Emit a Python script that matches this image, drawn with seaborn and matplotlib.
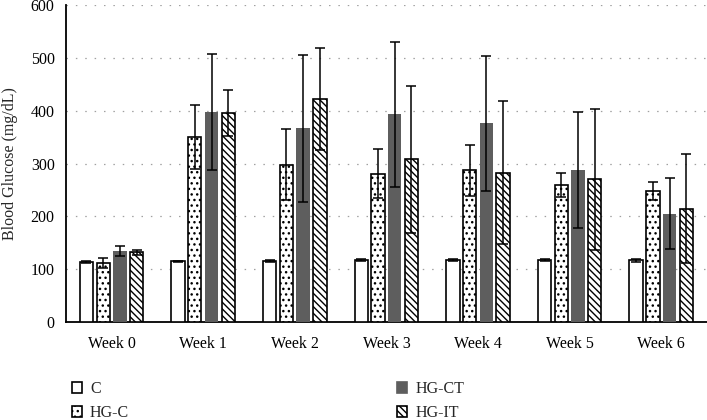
import seaborn as sns
import matplotlib.pyplot as plt
import pandas as pd

# values
weeks = ["Week 0", "Week 1", "Week 2", "Week 3", "Week 4", "Week 5", "Week 6"]
groups = ["C", "HG-C", "HG-CT", "HG-IT"]

c_mean = [114, 115, 115, 117, 117, 118, 117]
c_err = [2, 1, 2, 2, 2, 2, 3]
hgc_mean = [112, 350, 298, 281, 287, 260, 249]
hgc_err = [10, 60, 67, 47, 48, 23, 17]
hgct_mean = [135, 398, 367, 393, 376, 288, 205]
hgct_err = [10, 110, 139, 137, 128, 110, 67]
hgit_mean = [132, 396, 422, 308, 283, 270, 215]
hgit_err = [5, 44, 96, 139, 136, 134, 104]

means = [c_mean, hgc_mean, hgct_mean, hgit_mean]
errs = [c_err, hgc_err, hgct_err, hgit_err]

rows = []
for g, m in zip(groups, means):
    for w, v in zip(weeks, m):
        rows.append({"week": w, "group": g, "glucose": v})
df = pd.DataFrame(rows)

sns.set_style("white")
plt.rcParams["font.family"] = ["Liberation Serif", "DejaVu Serif"]
plt.rcParams["hatch.linewidth"] = 1.0

fig = plt.figure(figsize=(7.07, 4.2), dpi=100)
ax = fig.add_axes([0.093, 0.233, 0.907, 0.755])

faces = {"C": "white", "HG-C": "white", "HG-CT": "#5e5e5e", "HG-IT": "white"}
sns.barplot(data=df, x="week", y="glucose", hue="group", order=weeks,
            hue_order=groups, palette=faces, errorbar=None, width=0.73,
            gap=0.2, ax=ax, legend=False, zorder=3)

hatches = {"C": "", "HG-C": "...", "HG-CT": "", "HG-IT": "\\\\\\\\\\"}
for g, cont, err in zip(groups, ax.containers, errs):
    xs, ys = [], []
    for bar in cont:
        bar.set_hatch(hatches[g])
        if g == "HG-CT":
            bar.set_edgecolor("#5e5e5e")
            bar.set_linewidth(0)
        else:
            bar.set_edgecolor("black")
            bar.set_linewidth(1.2)
        xs.append(bar.get_x() + bar.get_width() / 2)
        ys.append(bar.get_height())
    ax.errorbar(xs, ys, yerr=err, fmt="none", ecolor="black", elinewidth=1.1,
                capsize=3.5, capthick=1.1, zorder=4)

ax.set_ylim(0, 600)
ax.set_xlim(-0.5, 6.5)
ax.set_yticks(range(0, 601, 100))
ax.yaxis.grid(True, color="#a0a0a0", linestyle=(0, (1.2, 6.3)), linewidth=0.9)
ax.set_axisbelow(True)
sns.despine(ax=ax, top=True, right=True)
ax.spines["left"].set_linewidth(1.3)
ax.spines["bottom"].set_linewidth(1.3)
ax.spines["left"].set_color("black")
ax.spines["bottom"].set_color("black")
ax.tick_params(axis="both", length=0, labelsize=11.5, colors="black")
ax.tick_params(axis="x", pad=10)
ax.tick_params(axis="y", pad=8)
ax.set_xlabel("")
ax.set_ylabel("Blood Glucose (mg/dL)", fontsize=11.5, labelpad=9)

# legend below the plot
handles = []
for g in groups:
    handles.append(plt.Rectangle((0, 0), 1, 1, facecolor=faces[g],
                                 edgecolor="black" if g != "HG-CT" else "#5e5e5e",
                                 linewidth=1.2, hatch=hatches[g]))
fig.legend(handles, groups, loc="upper left", bbox_to_anchor=(0.093, 0.108),
           ncol=2, frameon=False, fontsize=11.5, handlelength=0.62,
           handleheight=0.62, handletextpad=0.5, columnspacing=16.8,
           labelspacing=0.5, borderaxespad=0)

fig.savefig("out.png", dpi=100)
